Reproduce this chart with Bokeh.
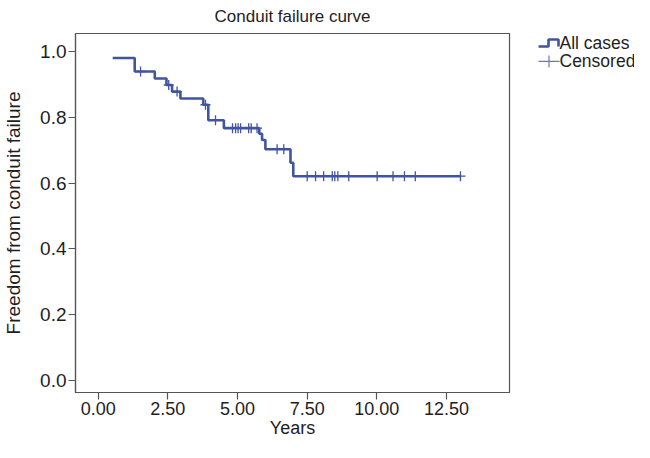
import numpy as np
from bokeh.plotting import figure
from bokeh.layouts import row
from bokeh.models import Range1d, FixedTicker, CustomJSTickFormatter
from bokeh.embed import file_html
from bokeh.resources import INLINE
from bokeh.core.properties import value

# ---- data ----
event_times = [0.52, 1.31, 2.03, 2.45, 2.65, 2.95, 3.77, 3.95, 4.51, 5.78, 5.88, 6.00, 6.90, 7.00]
survival = [0.980, 0.939, 0.918, 0.898, 0.878, 0.857, 0.838, 0.791, 0.767, 0.750, 0.731, 0.703, 0.662, 0.621]
censor_times = [1.52, 2.53, 2.83, 3.85, 4.21, 4.82, 4.93, 5.02, 5.11, 5.40, 5.49, 5.70,
                6.42, 6.66, 7.50, 7.80, 8.09, 8.40, 8.49, 8.60, 8.99, 10.01, 10.58, 10.99,
                11.38, 13.00]
end_time = 13.0
x_ticks = [0.0, 2.5, 5.0, 7.5, 10.0, 12.5]
y_ticks = [0.0, 0.2, 0.4, 0.6, 0.8, 1.0]
legend_labels = ["All cases", "Censored"]

FONT = "Liberation Sans"
BLUE = "#41549e"
AXIS = "#555555"
TXT = "#1e1e1e"

TOP, BOTTOM, H = 32, 50, 442

step_x = event_times + [end_time]
step_y = survival + [survival[-1]]
idx = np.searchsorted(event_times, censor_times, side="right") - 1
censor_y = [survival[i] for i in idx]

p = figure(width=513, height=H, output_backend="svg", toolbar_location=None,
           x_range=Range1d(-0.815, 14.76), y_range=Range1d(-0.036, 1.0545),
           min_border_left=75, min_border_right=4, min_border_top=TOP, min_border_bottom=BOTTOM,
           title="Conduit failure curve")
p.title.align = "center"
p.title.vertical_align = "top"
p.title.text_font = FONT
p.title.text_font_size = "17px"
p.title.text_font_style = "normal"
p.title.text_color = TXT
p.title.standoff = 12

p.grid.visible = False
p.outline_line_color = AXIS
p.outline_line_width = 1.2

p.step(step_x, step_y, mode="after", line_color=BLUE, line_width=2.6)
p.scatter(censor_times, censor_y, marker="cross", size=10, line_color=BLUE, line_width=1.3)

for ax in (p.xaxis[0], p.yaxis[0]):
    ax.axis_line_color = AXIS
    ax.axis_line_width = 1.2
    ax.major_tick_line_color = AXIS
    ax.major_tick_line_width = 1.2
    ax.major_tick_out = 7
    ax.major_tick_in = 0
    ax.minor_tick_line_color = None
    ax.major_label_text_color = TXT
    ax.major_label_text_font = FONT
    ax.axis_label_text_font = FONT
    ax.axis_label_text_font_style = "normal"
    ax.axis_label_text_color = TXT

p.yaxis.major_label_text_font_size = "19px"
p.yaxis.axis_label_text_font_size = "19px"
p.xaxis.major_label_text_font_size = "18px"
p.xaxis.axis_label_text_font_size = "18px"

p.xaxis.ticker = FixedTicker(ticks=x_ticks)
p.yaxis.ticker = FixedTicker(ticks=y_ticks)
p.xaxis.formatter = CustomJSTickFormatter(code="return tick.toFixed(2);")
p.yaxis.formatter = CustomJSTickFormatter(code="return tick.toFixed(1);")
p.xaxis.axis_label = "Years"
p.yaxis.axis_label = "Freedom from conduit failure"
p.xaxis.major_label_standoff = 2
p.xaxis.axis_label_standoff = 0
p.yaxis.major_label_standoff = 2
p.yaxis.axis_label_standoff = 13

# ---- legend panel (its frame spans the same canvas rows as the plot frame;
#      y data units equal canvas pixels measured from the top) ----
LW = 121
leg = figure(width=LW, height=H, output_backend="svg", toolbar_location=None,
             x_range=Range1d(0, LW), y_range=Range1d(H - BOTTOM, TOP), title=None,
             x_axis_location=None, y_axis_location=None,
             min_border_left=0, min_border_right=0, min_border_top=TOP, min_border_bottom=BOTTOM,
             outline_line_color=None)
leg.grid.visible = False
leg.line([25, 35, 35, 45, 45], [45, 45, 38, 38, 45], line_color=BLUE, line_width=2.6)
leg.line([25, 46], [60, 60], line_color="#6b79b6", line_width=1.2)
leg.line([35.5, 35.5], [54, 66], line_color="#6b79b6", line_width=1.2)
leg.text(x=[46, 46], y=[42, 60], text=legend_labels, text_baseline="middle",
         text_font=value(FONT), text_font_size="17.5px", text_color=TXT)

layout = row(p, leg)
open("out.html", "w").write(file_html(layout, INLINE))
